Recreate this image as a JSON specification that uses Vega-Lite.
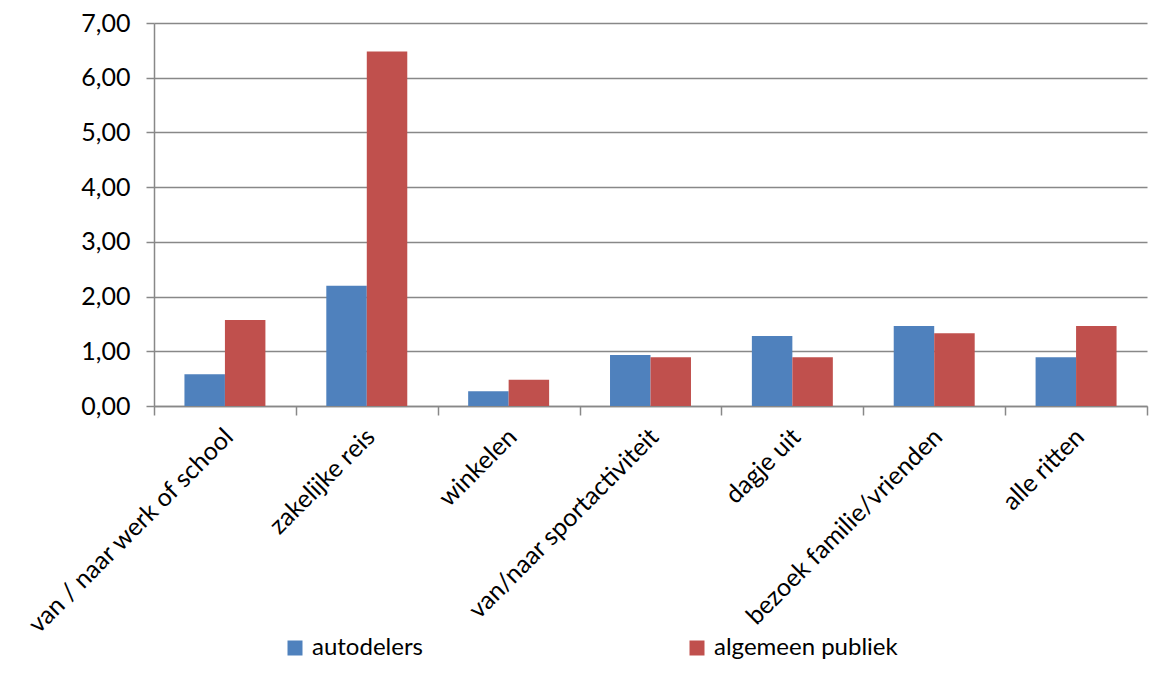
{
  "$schema": "https://vega.github.io/schema/vega-lite/v6.json",
  "width": 993,
  "height": 383,
  "autosize": "none",
  "padding": {"left": 154, "top": 23, "right": 7, "bottom": 267},
  "background": "white",
  "data": {
    "values": [
      {"doel": "van / naar werk of school", "groep": "autodelers", "waarde": 0.58},
      {"doel": "van / naar werk of school", "groep": "algemeen publiek", "waarde": 1.57},
      {"doel": "zakelijke reis", "groep": "autodelers", "waarde": 2.2},
      {"doel": "zakelijke reis", "groep": "algemeen publiek", "waarde": 6.48},
      {"doel": "winkelen", "groep": "autodelers", "waarde": 0.27},
      {"doel": "winkelen", "groep": "algemeen publiek", "waarde": 0.48},
      {"doel": "van/naar sportactiviteit", "groep": "autodelers", "waarde": 0.93},
      {"doel": "van/naar sportactiviteit", "groep": "algemeen publiek", "waarde": 0.89},
      {"doel": "dagje uit", "groep": "autodelers", "waarde": 1.28},
      {"doel": "dagje uit", "groep": "algemeen publiek", "waarde": 0.89},
      {"doel": "bezoek familie/vrienden", "groep": "autodelers", "waarde": 1.46},
      {"doel": "bezoek familie/vrienden", "groep": "algemeen publiek", "waarde": 1.33},
      {"doel": "alle ritten", "groep": "autodelers", "waarde": 0.89},
      {"doel": "alle ritten", "groep": "algemeen publiek", "waarde": 1.46}
    ]
  },
  "mark": {"type": "bar"},
  "encoding": {
    "x": {
      "field": "doel",
      "type": "nominal",
      "sort": ["van / naar werk of school", "zakelijke reis", "winkelen", "van/naar sportactiviteit", "dagje uit", "bezoek familie/vrienden", "alle ritten"],
      "scale": {"paddingInner": 0, "paddingOuter": 0},
      "axis": {
        "title": null,
        "labelAngle": -45,
        "labelFontSize": 25,
        "labelColor": "#000000",
        "labelPadding": 9,
        "labelOffset": -5,
        "labelLimit": 0,
        "tickBand": "extent",
        "tickSize": 9,
        "tickWidth": 1.5,
        "tickColor": "#888888",
        "domainColor": "#888888",
        "domainWidth": 1.5,
        "grid": false
      }
    },
    "xOffset": {
      "field": "groep",
      "type": "nominal",
      "sort": ["autodelers", "algemeen publiek"],
      "scale": {"paddingInner": 0, "paddingOuter": 0.752}
    },
    "y": {
      "field": "waarde",
      "type": "quantitative",
      "scale": {"domain": [0, 7], "nice": false},
      "axis": {
        "title": null,
        "values": [0, 1, 2, 3, 4, 5, 6, 7],
        "labelExpr": "replace(format(datum.value, '.2f'), '.', ',')",
        "labelFontSize": 25,
        "labelColor": "#000000",
        "labelPadding": 16,
        "tickSize": 8,
        "tickWidth": 1.5,
        "tickColor": "#888888",
        "domainColor": "#888888",
        "domainWidth": 1.5,
        "grid": true,
        "gridColor": "#888888",
        "gridWidth": 1.5
      }
    },
    "color": {
      "field": "groep",
      "type": "nominal",
      "scale": {"domain": ["autodelers", "algemeen publiek"], "range": ["#4F81BD", "#C0504D"]},
      "legend": {
        "title": null,
        "orient": "none",
        "legendX": 129,
        "legendY": 613,
        "direction": "horizontal",
        "columns": 2,
        "columnPadding": 262,
        "symbolType": "square",
        "symbolSize": 225,
        "symbolStrokeWidth": 0,
        "labelFontSize": 24,
        "labelLimit": 0,
        "labelColor": "#000000",
        "labelOffset": 5
      }
    }
  },
  "config": {
    "font": "Lato",
    "view": {"stroke": null}
  }
}
